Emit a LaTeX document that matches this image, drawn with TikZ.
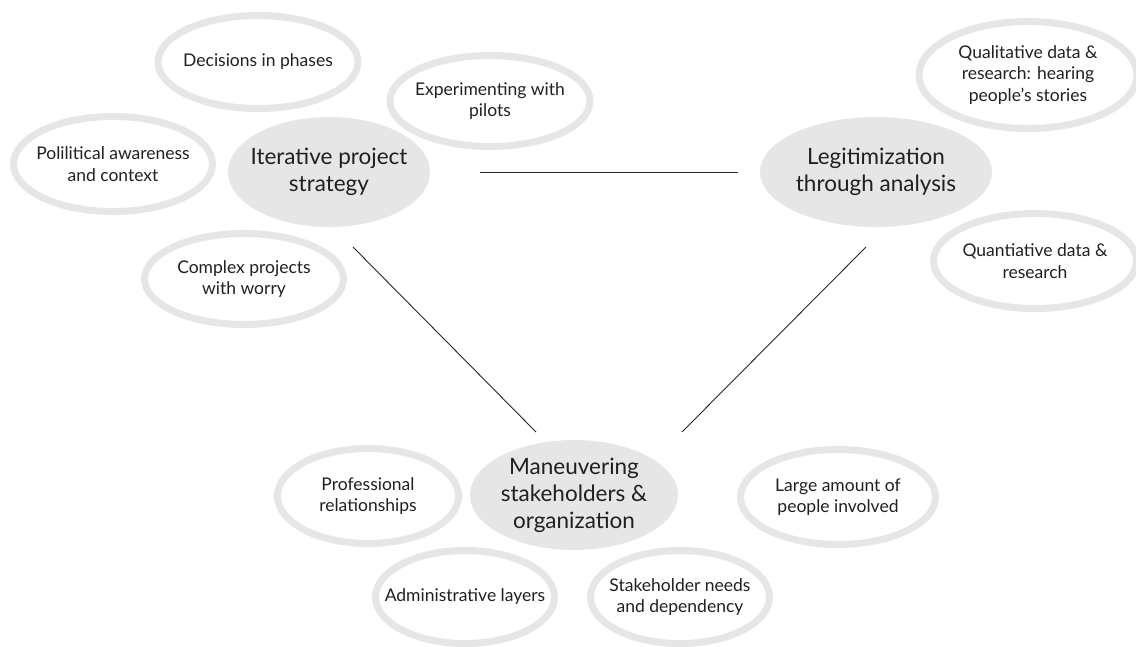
\documentclass[tikz,border=0pt]{standalone}
\usepackage{fontspec}
\setmainfont{Lato}
\usetikzlibrary{backgrounds}

\definecolor{ringgray}{HTML}{E6E6E6}
\definecolor{coregray}{HTML}{E6E6E6}
\definecolor{textdark}{HTML}{231F20}

\begin{document}
\begin{tikzpicture}[x=1pt, y=-1pt,
    sat/.style={align=center, text=textdark, font=\fontsize{17.5}{21.5}\selectfont},
    core/.style={align=center, text=textdark, font=\fontsize{22.5}{27}\selectfont},
    ring/.style={draw=ringgray, line width=7pt},
    blob/.style={fill=coregray},
    link/.style={draw=black!85, line width=0.9pt}
  ]
    \useasboundingbox (0,0) rectangle (1136,646);

    % three main themes
    \node (iter_strategy) [core] at (329,172) {Iterative project\\strategy};
    \node (legit_analysis) [core] at (876,172) {Legitimization\\through analysis};
    \node (stake_org) [core] at (574,495) {Maneuvering\\stakeholders \&\\organization};

    % sub-themes around each one
    \node (decisions) [sat] at (258,62) {Decisions in phases};
    \node (pilots) [sat] at (490,101) {Experimenting with\\pilots};
    \node (political) [sat] at (113,164) {Polilitical awareness\\and context};
    \node (complex) [sat] at (244,279) {Complex projects\\with worry};

    \node (qualitative) [sat] at (1028,75) {Qualitative data \&\\research: hearing\\people's stories};
    \node (quantitative) [sat] at (1035,261) {Quantiative data \&\\research};

    \node (professional) [sat] at (368,496) {Professional\\relationships};
    \node (large_amount) [sat] at (838,497) {Large amount of\\people involved};
    \node (admin_layers) [sat] at (465,597) {Administrative layers};
    \node (stake_needs) [sat] at (680,597) {Stakeholder needs\\and dependency};

    \begin{scope}[on background layer]
      \fill[blob] (iter_strategy.center) ellipse [x radius=101pt, y radius=55pt];
      \fill[blob] (legit_analysis.center) ellipse [x radius=116pt, y radius=55pt];
      \fill[blob] (stake_org.center) ellipse [x radius=104pt, y radius=55pt];

      \draw[ring] (decisions.center) ellipse [x radius=100pt, y radius=46.5pt];
      \draw[ring] (pilots.center) ellipse [x radius=100pt, y radius=45.5pt];
      \draw[ring] (political.center) ellipse [x radius=99.5pt, y radius=47.5pt];
      \draw[ring] (complex.center) ellipse [x radius=99.5pt, y radius=45.5pt];
      \draw[ring] (qualitative.center) ellipse [x radius=109pt, y radius=53.5pt];
      \draw[ring] (quantitative.center) ellipse [x radius=101.5pt, y radius=47.5pt];
      \draw[ring] (professional.center) ellipse [x radius=90.5pt, y radius=47.5pt];
      \draw[ring] (large_amount.center) ellipse [x radius=97.5pt, y radius=47.5pt];
      \draw[ring] (admin_layers.center) ellipse [x radius=89.5pt, y radius=46.5pt];
      \draw[ring] (stake_needs.center) ellipse [x radius=89.5pt, y radius=46.5pt];
    \end{scope}

    % links between the themes
    \draw[link] ([xshift=151pt]iter_strategy.center) -- ([xshift=-138pt]legit_analysis.center);
    \draw[link] ([xshift=24pt,yshift=-75pt]iter_strategy.center) -- ([xshift=-38pt,yshift=63pt]stake_org.center);
    \draw[link] ([xshift=-10pt,yshift=-75pt]legit_analysis.center) -- ([xshift=108pt,yshift=63pt]stake_org.center);

  \end{tikzpicture}
\end{document}
